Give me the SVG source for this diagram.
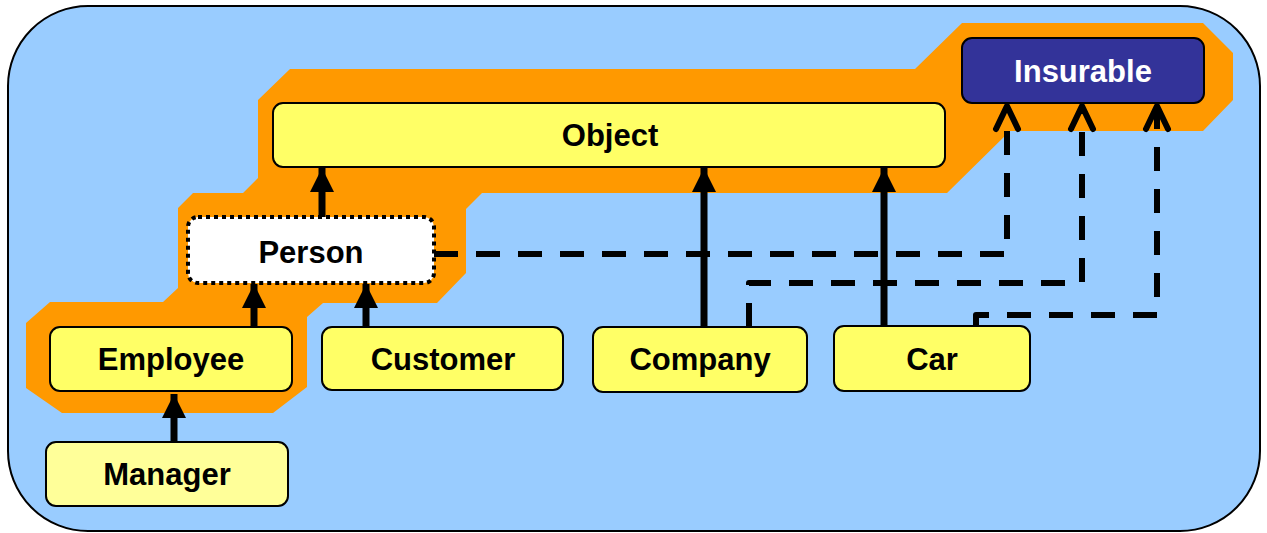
<svg xmlns="http://www.w3.org/2000/svg" width="1267" height="533" viewBox="0 0 1267 533">
<style>
.box{stroke:#000;stroke-width:2}
.y{fill:#FFFF66}
.lbl{font-family:"Liberation Sans",Arial,sans-serif;font-weight:bold;font-size:31px;text-anchor:middle;fill:#000}
.solid{stroke:#000;stroke-width:7;fill:none}
.dash{stroke:#000;stroke-width:6;fill:none;stroke-dasharray:24 18;stroke-linejoin:round}
</style>
<defs>
<marker id="tri" markerUnits="userSpaceOnUse" viewBox="0 0 24 24" refX="24" refY="12" markerWidth="24" markerHeight="24" orient="auto">
<path d="M0,0 L24,12 L0,24 Z" fill="#000"/>
</marker>
<marker id="vee" markerUnits="userSpaceOnUse" viewBox="-4 -4 32 30" refX="23" refY="11" markerWidth="32" markerHeight="30" orient="auto">
<path d="M0,0 L23,11 L0,22" fill="none" stroke="#000" stroke-width="6" stroke-linecap="round" stroke-linejoin="round"/>
</marker>
</defs>
<rect x="8" y="6" width="1252" height="525" rx="80" ry="80" fill="#99CCFF" stroke="#000" stroke-width="2"/>
<polygon fill="#FF9900" points="290,69 915,69 962,23 1203,23 1233,53 1233,100 1203,131 1010,131 947,193 482,193 466,209 466,273 437,303 323,303 307,317 307,387 273,413 62,413 26,388 26,323 50,302 163,302 178,288 178,208 193,193 243,193 258,178 258,100"/>
<g id="connectors">
<path class="dash" d="M434,254 H1007 V106" marker-end="url(#vee)"/>
<path class="dash" d="M749,327 V283 H1082 V106" marker-end="url(#vee)"/>
<path class="dash" d="M976,326 V315 H1157 V106" marker-end="url(#vee)"/>
<path class="solid" d="M174,442 V394" marker-end="url(#tri)"/>
<path class="solid" d="M254,327 V284" marker-end="url(#tri)"/>
<path class="solid" d="M366,327 V284" marker-end="url(#tri)"/>
<path class="solid" d="M322,217 V168" marker-end="url(#tri)"/>
<path class="solid" d="M704,327 V168" marker-end="url(#tri)"/>
<path class="solid" d="M884,326 V168" marker-end="url(#tri)"/>
</g>
<g id="object">
<rect class="box y" x="273" y="103" width="672" height="64" rx="10"/>
<text class="lbl" x="610" y="146">Object</text>
</g>
<g id="insurable">
<rect class="box" fill="#333399" x="962" y="38" width="242" height="65" rx="10"/>
<text class="lbl" x="1083" y="82" fill="#FFFFFF" style="fill:#FFFFFF">Insurable</text>
</g>
<g id="person">
<rect x="188" y="217" width="246" height="66" rx="10" fill="#FFFFFF" stroke="#000" stroke-width="4" stroke-dasharray="4 4"/>
<text class="lbl" x="311" y="263">Person</text>
</g>
<g id="employee">
<rect class="box y" x="50" y="327" width="242" height="64" rx="10"/>
<text class="lbl" x="171" y="370">Employee</text>
</g>
<g id="customer">
<rect class="box y" x="322" y="327" width="241" height="63" rx="10"/>
<text class="lbl" x="443" y="370">Customer</text>
</g>
<g id="company">
<rect class="box y" x="593" y="327" width="214" height="65" rx="10"/>
<text class="lbl" x="700" y="370">Company</text>
</g>
<g id="car">
<rect class="box y" x="834" y="326" width="196" height="65" rx="10"/>
<text class="lbl" x="932" y="370">Car</text>
</g>
<g id="manager">
<rect class="box" fill="#FFFF99" x="46" y="442" width="242" height="64" rx="10"/>
<text class="lbl" x="167" y="485">Manager</text>
</g>
</svg>
